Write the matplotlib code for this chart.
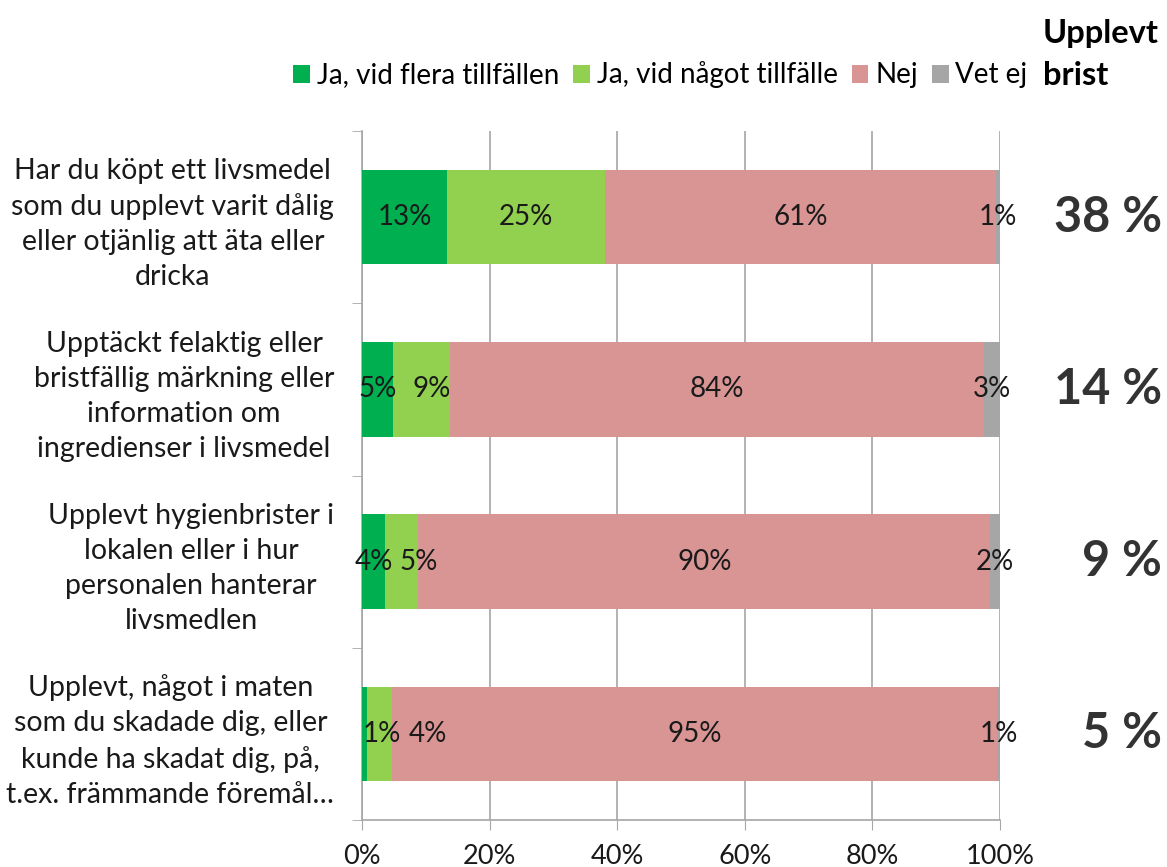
import matplotlib
matplotlib.use("Agg")
import matplotlib.pyplot as plt
import numpy as np

plt.rcParams['font.family'] = ['Lato', 'DejaVu Sans']

categories = [
    "Har du köpt ett livsmedel\nsom du upplevt varit dålig\neller otjänlig att äta eller\ndricka",
    "Upptäckt felaktig eller\nbristfällig märkning eller\ninformation om\ningredienser i livsmedel",
    "Upplevt hygienbrister i\nlokalen eller i hur\npersonalen hanterar\nlivsmedlen",
    "Upplevt, något i maten\nsom du skadade dig, eller\nkunde ha skadat dig, på,\nt.ex. främmande föremål…",
]
series_names = ["Ja, vid flera tillfällen", "Ja, vid något tillfälle", "Nej", "Vet ej"]
ja_flera = [13.4, 4.9, 3.6, 0.8]
ja_nagot = [24.7, 8.9, 5.2, 3.9]
nej = [61.2, 83.7, 89.7, 94.8]
vet_ej = [0.7, 2.6, 1.5, 0.6]
x_ticks = [0, 20, 40, 60, 80, 100]
x_tick_labels = ["0%", "20%", "40%", "60%", "80%", "100%"]
header = "Upplevt\nbrist"

colors = ["#00B050", "#92D050", "#D99594", "#A6A6A6"]
# label nudges in pixels (series index, category index) -> dx
nudge = {(1, 1): 10, (1, 2): 17, (0, 3): 17, (1, 3): 48}

fig = plt.figure(figsize=(11.67, 8.67), dpi=100)
ax = fig.add_axes([362/1167, 47/867, 638/1167, 689/867])

series = [ja_flera, ja_nagot, nej, vet_ej]
y = np.arange(len(categories))
left = np.zeros(len(categories))
for si, (vals, col, name) in enumerate(zip(series, colors, series_names)):
    vals = np.array(vals)
    ax.barh(y, vals, left=left, height=0.55, color=col, label=name, zorder=3)
    for ci, v in enumerate(vals):
        cx = left[ci] + v / 2
        dx = nudge.get((si, ci), 0)
        ax.annotate(f"{round(v)}%", (cx, y[ci]), xytext=(dx, 0), textcoords="offset pixels",
                    ha="center", va="center", fontsize=20, color="#1a1a1a", zorder=4)
    left += vals

ax.set_xlim(0, 100)
ax.set_ylim(len(categories) - 0.5, -0.5)
ax.set_xticks(x_ticks)
ax.set_xticklabels(x_tick_labels, fontsize=19.5, color="#1a1a1a")
ax.xaxis.grid(True, color="#A6A6A6", linewidth=1.2, zorder=0)
ax.tick_params(axis="x", length=7, color="#A6A6A6", pad=10)

ax.set_yticks(y)
ax.set_yticklabels(categories, fontsize=20.5, color="#1a1a1a", multialignment="center", linespacing=1.43)
ax.tick_params(axis="y", which="major", length=0, pad=20)
ax.set_yticks(np.arange(len(categories) + 1) - 0.5, minor=True)
ax.tick_params(axis="y", which="minor", length=7, color="#A6A6A6")

for s in ["top", "right"]:
    ax.spines[s].set_visible(False)
for s in ["left", "bottom"]:
    ax.spines[s].set_color("#A6A6A6")
    ax.spines[s].set_linewidth(1.2)

# Upplevt brist
for ci in range(len(categories)):
    tot = round(ja_flera[ci] + ja_nagot[ci])
    ax.annotate(f"{tot} %", (1, y[ci]), xycoords=("axes fraction", "data"),
                xytext=(162, 0), textcoords="offset pixels",
                ha="right", va="center", fontsize=35, fontweight="bold", color="#333333")
fig.text(1043/1167, 1 - 19/867, header, ha="left", va="top", fontsize=23.5,
         fontweight="bold", color="black", linespacing=1.55)

handles, labels = ax.get_legend_handles_labels()
fig.legend(handles, labels, loc="center", bbox_to_anchor=((287 + 1034) / 2 / 1167, 1 - 75/867),
           ncol=4, frameon=False, fontsize=20, handlelength=0.6, handleheight=0.6,
           handletextpad=0.25, columnspacing=0.5)

fig.savefig("out.png", dpi=100)
